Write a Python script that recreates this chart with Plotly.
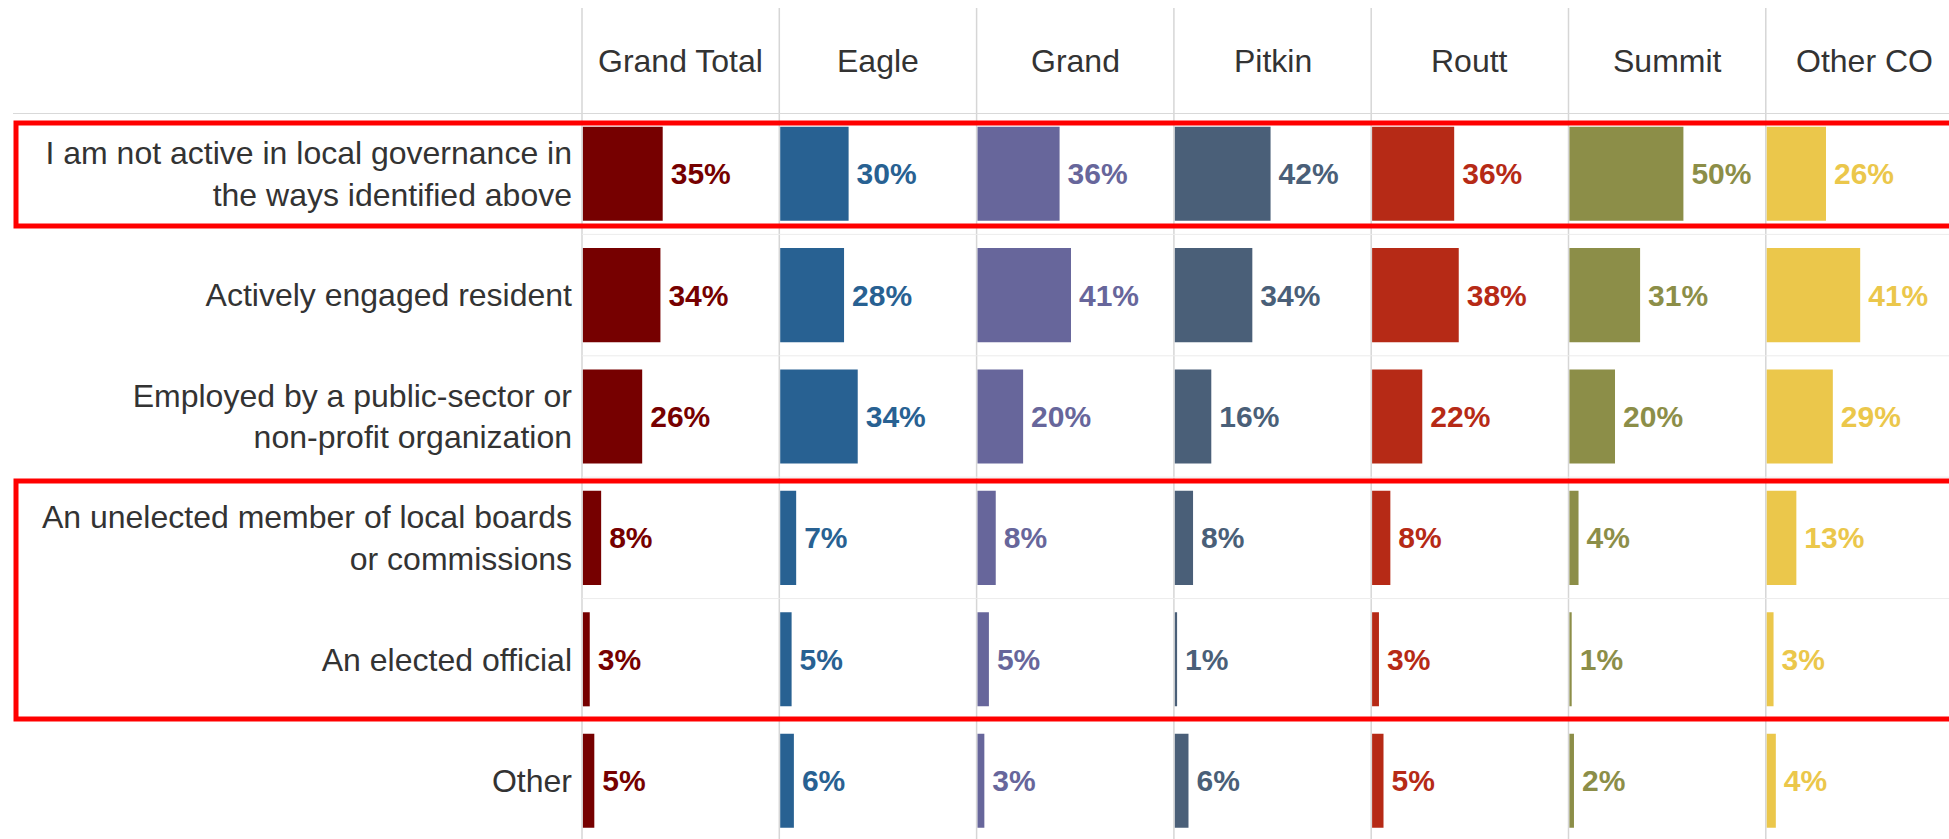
import plotly.graph_objects as go

# ---------------- data ----------------
categories = [
    "I am not active in local governance in<br>the ways identified above",
    "Actively engaged resident",
    "Employed by a public-sector or<br>non-profit organization",
    "An unelected member of local boards<br>or commissions",
    "An elected official",
    "Other",
]
groups = ["Grand Total", "Eagle", "Grand", "Pitkin", "Routt", "Summit", "Other CO"]

grand_total = [35, 34, 26, 8, 3, 5]
eagle = [30, 28, 34, 7, 5, 6]
grand = [36, 41, 20, 8, 5, 3]
pitkin = [42, 34, 16, 8, 1, 6]
routt = [36, 38, 22, 8, 3, 5]
summit = [50, 31, 20, 4, 1, 2]
other_co = [26, 41, 29, 13, 3, 4]

series = [grand_total, eagle, grand, pitkin, routt, summit, other_co]
colors = ["#760000", "#286192", "#67669b", "#4a5f78", "#b62a16", "#8c8e48", "#ebc74b"]

# ---------------- layout geometry ----------------
W_FIG, H_FIG = 1949, 839
M_L, M_T = 582, 113
PLOT_W = W_FIG - M_L
PLOT_H = H_FIG - M_T
COL_W = 197.3           # nominal width of each panel (px)
PX_PER_UNIT = 2.28      # px per percentage point
ROW_PX = 121.4
Y_TOP = -0.5
Y_BOTTOM = Y_TOP + PLOT_H / ROW_PX

FONT = "Liberation Sans, Arial, sans-serif"
TXT = "#333333"

fig = go.Figure()

for i, (g, vals, c) in enumerate(zip(groups, series, colors)):
    ax = "x" if i == 0 else f"x{i+1}"
    fig.add_trace(go.Bar(
        x=vals, y=categories, orientation="h",
        xaxis=ax, yaxis="y",
        marker=dict(color=c, line=dict(width=0)),
        width=0.775,
        text=[f"<b>\u2006{v}%</b>" for v in vals],
        textposition="outside",
        textfont=dict(family=FONT, size=30, color=c),
        constraintext="none",
        cliponaxis=False,
        name=g, showlegend=False, hoverinfo="skip",
    ))

layout = dict(
    width=W_FIG, height=H_FIG,
    margin=dict(l=M_L, r=0, t=M_T, b=0, pad=0),
    paper_bgcolor="white", plot_bgcolor="white",
    bargap=0.2,
    yaxis=dict(
        anchor="x", range=[Y_BOTTOM, Y_TOP], showgrid=False, zeroline=False,
        showline=False, ticks="", ticklabelstandoff=9,
        tickfont=dict(family=FONT, size=32, color=TXT), fixedrange=True,
        categoryorder="array", categoryarray=categories,
    ),
)

shapes = []
annotations = []
for i in range(len(groups)):
    d0 = i * COL_W / PLOT_W
    d1 = min(1.0, (i + 1) * COL_W / PLOT_W)
    span_px = (d1 - d0) * PLOT_W
    key = "xaxis" if i == 0 else f"xaxis{i+1}"
    layout[key] = dict(
        domain=[d0, d1], anchor="y", range=[-0.4, span_px / PX_PER_UNIT - 0.4],
        visible=False, showgrid=False, zeroline=False, fixedrange=True,
    )
    # column divider line
    shapes.append(dict(type="line", xref="paper", yref="paper",
                       x0=d0, x1=d0, y0=0, y1=(H_FIG - 8) / PLOT_H,
                       line=dict(color="#d6d6d6", width=1.5), layer="below"))
    # header text (centered in nominal column)
    annotations.append(dict(
        text=groups[i], xref="paper", yref="paper",
        x=(i * COL_W + COL_W / 2) / PLOT_W, y=(H_FIG - 61) / PLOT_H,
        xanchor="center", yanchor="middle", showarrow=False,
        font=dict(family=FONT, size=32, color=TXT),
    ))

# header bottom line
shapes.append(dict(type="line", xref="paper", yref="y",
                   x0=(13 - M_L) / PLOT_W, x1=1, y0=-0.5, y1=-0.5,
                   line=dict(color="#d9d9d9", width=2), layer="below"))
# row separators
for k in range(len(categories) - 1):
    shapes.append(dict(type="line", xref="paper", yref="y",
                       x0=0, x1=1, y0=k + 0.5, y1=k + 0.5,
                       line=dict(color="#ececec", width=1), layer="below"))

# red highlight boxes
x_left = (16 - M_L) / PLOT_W
shapes.append(dict(type="rect", xref="paper", yref="y",
                   x0=x_left, x1=1.02, y0=-0.418, y1=0.431,
                   line=dict(color="#ff0000", width=5), fillcolor="rgba(0,0,0,0)", layer="above"))
shapes.append(dict(type="rect", xref="paper", yref="y",
                   x0=x_left, x1=1.02, y0=2.531, y1=4.492,
                   line=dict(color="#ff0000", width=5), fillcolor="rgba(0,0,0,0)", layer="above"))

layout["shapes"] = shapes
layout["annotations"] = annotations
fig.update_layout(**layout)

fig.write_html("out.html")
